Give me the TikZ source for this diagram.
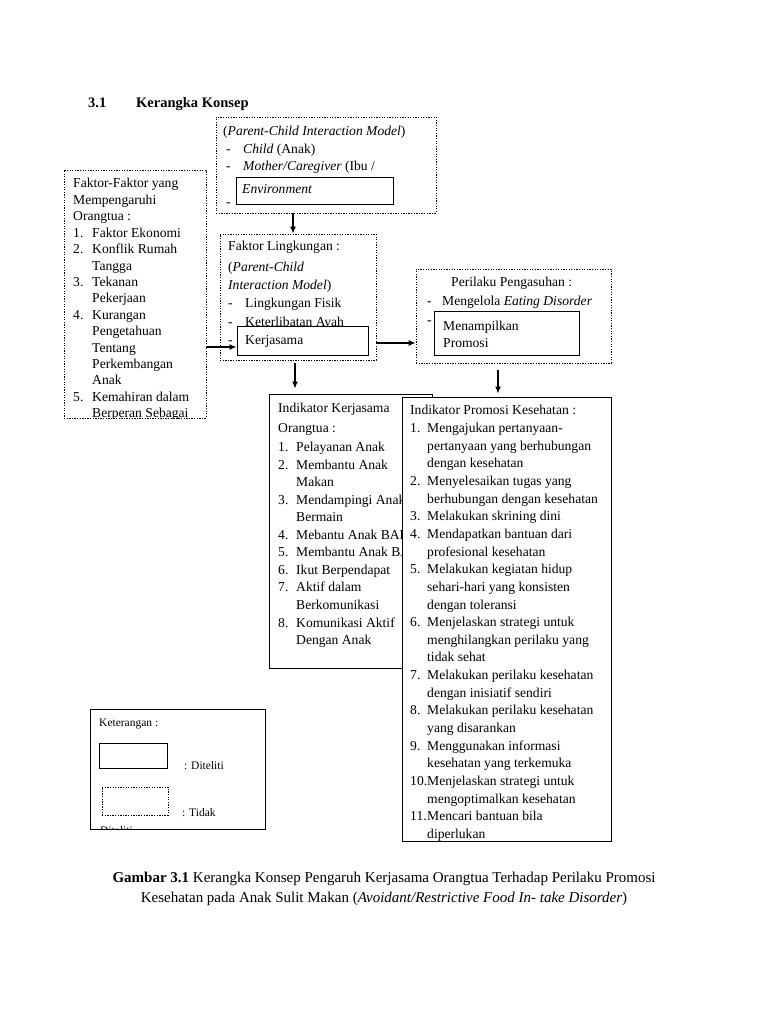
\documentclass[tikz,border=0pt]{standalone}
\usepackage{fontspec}
\setmainfont{Liberation Serif}
\usetikzlibrary{arrows.meta,calc,fit}
\begin{document}
\begin{tikzpicture}[x=1pt,y=-1pt,
 txt/.style={anchor=base west,inner sep=0pt,font=\fontsize{13.6}{15}\selectfont},
 lg/.style={anchor=base west,inner sep=0pt,font=\fontsize{11.5}{13}\selectfont},
 dbox/.style={draw,line width=0.7pt,dash pattern=on 1.3pt off 1.3pt,inner sep=0pt},
 sbox/.style={draw,line width=0.8pt,fill=white,inner sep=0pt},
 arr/.style={-{Latex[length=7pt,width=6pt]},line width=1.5pt}]
\useasboundingbox[fill=white] (0,0) rectangle (768,1024);

% title
\node[anchor=base west,inner sep=0pt,font=\bfseries\fontsize{14.5}{16}\selectfont] (secno) at (88,108) {3.1};
\node[anchor=base west,inner sep=0pt,font=\bfseries\fontsize{14.5}{16}\selectfont] (sectitle) at (136,108) {Kerangka Konsep};

% dotted boxes
\node[dbox,fit={(216,117) (436,213)}] (top) {};
\node[dbox,fit={(64,170) (206,418)}] (fak) {};
\node[dbox,fit={(220,234) (376,360)}] (lingk) {};
\node[dbox,fit={(416,269) (611,363)}] (peril) {};

% top box text
\node[txt] (t1) at (223,136) {(\textit{Parent-Child Interaction Model})};
\node[txt] (t2) at (226,154) {-};
\node[txt] (t2b) at (243,154) {\textit{Child} (Anak)};
\node[txt] (t3) at (226,171) {-};
\node[txt] (t3b) at (243,171) {\textit{Mother/Caregiver} (Ibu /};
\node[txt] (t4) at (226,207) {-};
\node[sbox,fit={(236,177) (393,204)}] (env) {};
\node[txt] (envt) at (242,194) {\textit{Environment}};

% left box text
\begin{scope}
\clip (64,170) rectangle (206,418);
\foreach \tx [count=\i] in {Faktor-Faktor yang,Mempengaruhi,Orangtua :}
  \node[txt] (fh\i) at (73,{188+16.4*(\i-1)}) {\tx};
\foreach \nm/\tx [count=\i] in {1./Faktor Ekonomi,2./Konflik Rumah,/Tangga,3./Tekanan,/Pekerjaan,4./Kurangan,/Pengetahuan,/Tentang,/Perkembangan,/Anak,5./Kemahiran dalam,/Berperan Sebagai}
  \node[txt] (fi\i) at (73,{188+16.4*(\i+2)}) {\makebox[19pt][l]{\nm}\tx};
\end{scope}

% lingkungan box text
\node[txt] (l1) at (228,251) {Faktor Lingkungan :};
\node[txt] (l2) at (228,271) {(\textit{Parent-Child}};
\node[txt] (l3) at (228,289) {\textit{Interaction Model})};
\node[txt] (l4) at (228,307) {-};
\node[txt] (l4b) at (245,307) {Lingkungan Fisik};
\node[txt] (l5) at (228,326) {-};
\node[txt] (l5b) at (245,326) {Keterlibatan Ayah};
\node[txt] (l6) at (228,344) {-};
\node[sbox,fit={(237,326) (368,355)}] (kerja) {};
\node[txt] (kerjat) at (245,344) {Kerjasama};

% perilaku box text
\node[txt] (p1) at (451,286) {Perilaku Pengasuhan :};
\node[txt] (p2) at (427,305) {-};
\node[txt] (p2b) at (442,305) {Mengelola \textit{Eating Disorder}};
\node[txt] (p3) at (427,324) {-};
\node[sbox,fit={(434,311) (579,355)}] (menamp) {};
\node[txt] (m1) at (443,330) {Menampilkan};
\node[txt] (m2) at (443,347) {Promosi};

% indikator kerjasama
\node[sbox,fit={(269,394) (432,668)}] (indk) {};
\node[txt] (k1) at (278,412) {Indikator Kerjasama};
\node[txt] (k2) at (278,432) {Orangtua :};
\foreach \nm/\tx [count=\i] in {1./Pelayanan Anak,2./Membantu Anak,/Makan,3./Mendampingi Anak,/Bermain,4./Mebantu Anak BAK,5./Membantu Anak BAB,6./Ikut Berpendapat,7./Aktif dalam,/Berkomunikasi,8./Komunikasi Aktif,/Dengan Anak}
  \node[txt] (ki\i) at (278,{451.5+17.55*(\i-1)}) {\makebox[18pt][l]{\nm}\tx};

% indikator promosi
\node[sbox,fit={(402,397) (611,841)}] (indp) {};
\node[txt] (ph) at (410,414) {Indikator Promosi Kesehatan :};
\foreach \nm/\tx [count=\i] in {1./Mengajukan pertanyaan-,/pertanyaan yang berhubungan,/dengan kesehatan,2./Menyelesaikan tugas yang,/berhubungan dengan kesehatan,3./Melakukan skrining dini,4./Mendapatkan bantuan dari,/profesional kesehatan,5./Melakukan kegiatan hidup,/sehari-hari yang konsisten,/dengan toleransi,6./Menjelaskan strategi untuk,/menghilangkan perilaku yang,/tidak sehat,7./Melakukan perilaku kesehatan,/dengan inisiatif sendiri,8./Melakukan perilaku kesehatan,/yang disarankan,9./Menggunakan informasi,/kesehatan yang terkemuka,10./Menjelaskan strategi untuk,/mengoptimalkan kesehatan,11./Mencari bantuan bila,/diperlukan}
  \node[txt] (pi\i) at (410,{432.5+17.65*(\i-1)}) {\makebox[17pt][l]{\nm}\tx};

% legend
\node[sbox,fit={(90,709) (265,829)}] (leg) {};
\node[lg] (legt) at (99,726) {Keterangan :};
\node[sbox,fit={(99,743) (167,768)}] (legs) {};
\node[lg] (legst) at (184,769) {: Diteliti};
\node[dbox,fit={(102,787) (168,815)}] (legd) {};
\node[lg] (legdt) at (182,816) {: Tidak};
\begin{scope}
\clip (90,709) rectangle (265,829);
\node[lg] (legdt2) at (100,834) {Diteliti};
\end{scope}

% arrows
\coordinate (a1) at (236,347);
\draw[arr] (fak.east |- a1) -- (kerja.west |- a1);
\coordinate (a2) at (376,343);
\draw[arr] (lingk.east |- a2) -- (peril.west |- a2);
\coordinate (a3) at (293,213);
\draw[arr] (top.south -| a3) -- (lingk.north -| a3);
\coordinate (a4) at (295,363);
\draw[arr] (a4) -- ([yshift=5pt]indk.north -| a4);
\coordinate (a5) at (498,370);
\draw[arr] (a5) -- ([yshift=3pt]indp.north -| a5);

% caption
\node[align=center,inner sep=0pt,font=\fontsize{15}{19.5}\selectfont] (cap) at (384,889)
 {\textbf{Gambar 3.1} Kerangka Konsep Pengaruh Kerjasama Orangtua Terhadap Perilaku Promosi\\
  Kesehatan pada Anak Sulit Makan (\textit{Avoidant/Restrictive Food In- take Disorder})};
\end{tikzpicture}
\end{document}
